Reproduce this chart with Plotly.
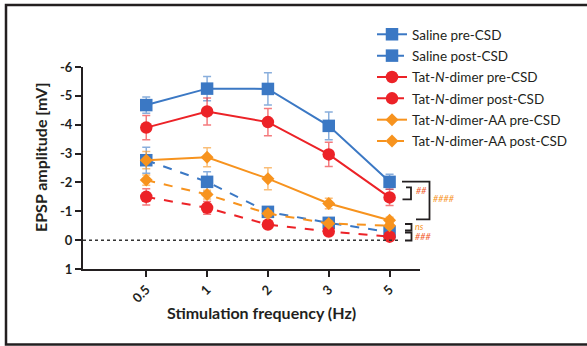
import plotly.graph_objects as go

freq = ["0.5", "1", "2", "3", "5"]

saline_pre = [-4.68, -5.25, -5.24, -3.96, -2.02]
saline_pre_err = [0.28, 0.42, 0.56, 0.48, 0.26]
saline_post = [-2.77, -2.02, -0.98, -0.60, -0.28]
saline_post_err = [0.45, 0.35, 0.12, 0.10, 0.08]
tat_pre = [-3.90, -4.46, -4.09, -2.97, -1.48]
tat_pre_err = [0.42, 0.47, 0.47, 0.42, 0.28]
tat_post = [-1.50, -1.12, -0.54, -0.30, -0.12]
tat_post_err = [0.28, 0.22, 0.10, 0.08, 0.06]
aa_pre = [-2.77, -2.87, -2.13, -1.27, -0.69]
aa_pre_err = [0.30, 0.33, 0.38, 0.18, 0.10]
aa_post = [-2.08, -1.58, -0.92, -0.58, -0.50]
aa_post_err = [0.18, 0.15, 0.10, 0.08, 0.08]

names = ["Saline pre-CSD", "Saline post-CSD",
         "Tat-<i>N</i>-dimer pre-CSD", "Tat-<i>N</i>-dimer post-CSD",
         "Tat-<i>N</i>-dimer-AA pre-CSD", "Tat-<i>N</i>-dimer-AA post-CSD"]

BLUE = "#3b78c4"
RED = "#ec2227"
ORANGE = "#f7931e"
BLUE_E = "rgba(59,120,196,0.6)"
RED_E = "rgba(236,34,39,0.6)"
ORANGE_E = "rgba(247,147,30,0.6)"

series = [
    (saline_pre, saline_pre_err, names[0], BLUE, BLUE_E, "square", 12.5, "solid"),
    (saline_post, saline_post_err, names[1], BLUE, BLUE_E, "square", 12.5, "dash"),
    (tat_pre, tat_pre_err, names[2], RED, RED_E, "circle", 12.5, "solid"),
    (tat_post, tat_post_err, names[3], RED, RED_E, "circle", 12.5, "dash"),
    (aa_pre, aa_pre_err, names[4], ORANGE, ORANGE_E, "diamond", 10, "solid"),
    (aa_post, aa_post_err, names[5], ORANGE, ORANGE_E, "diamond", 10, "dash"),
]

xi = list(range(len(freq)))

fig = go.Figure()
for k, (y, e, nm, col, ecol, sym, sz, dash) in enumerate(series):
    fig.add_trace(go.Scatter(
        x=xi, y=y, name=nm, mode="lines+markers", legendgroup="g%d" % k,
        line=dict(color=col, width=2, dash=dash),
        marker=dict(color=col, symbol=sym, size=sz, line=dict(width=0)),
        error_y=dict(type="data", array=e, visible=True, color=ecol,
                     thickness=1.5, width=4),
    ))

FONT = "Lato"
INK = "#231f20"

# plot area pixel geometry
L, R, T, B = 83, 420, 67, 269
W, H = 587, 346


def px(xp):
    return (xp - L) / (R - L)


def py(yp):
    return (B - yp) / (B - T)


def yv(yp):
    # pixel y -> data value (range 1 at bottom, -6 at top)
    return 1 - 7 * (B - yp) / (B - T)


shapes = []
# outer frame
shapes.append(dict(type="rect", xref="paper", yref="paper",
                   x0=px(6), x1=px(592), y0=py(5), y1=py(344.5),
                   line=dict(color=INK, width=2.5), fillcolor="rgba(0,0,0,0)"))
# dotted zero line
shapes.append(dict(type="line", xref="paper", yref="y",
                   x0=0, x1=px(398), y0=0, y1=0,
                   line=dict(color="#333333", width=1.5, dash="dot")))


def bracket(xl, xv, ytop, ybot, xl2=None):
    if xl2 is None:
        xl2 = xl
    path = "M {a},{b} L {c},{b} L {c},{d} L {e},{d}".format(
        a=px(xl), b=yv(ytop), c=px(xv), d=yv(ybot), e=px(xl2))
    return dict(type="path", xref="paper", yref="y", path=path,
                line=dict(color=INK, width=1.8))


shapes.append(bracket(402, 429.5, 181.7, 219.3, 416))
shapes.append(bracket(406, 411, 187.3, 199.3, 402.5))
shapes.append(bracket(405, 411.5, 224, 230.5))
shapes.append(bracket(405, 411.5, 232.5, 240.5))

SIGR = "#f15a29"
SIGO = "#f7941d"
annotations = []


def sig(text, xp, yp, col):
    annotations.append(dict(text="<i>" + text + "</i>", xref="paper", yref="y",
                            x=px(xp), y=yv(yp), xanchor="left", yanchor="middle",
                            showarrow=False,
                            font=dict(family=FONT, size=9, color=col)))


sig("##", 414, 190, SIGR)
sig("####", 431, 198.5, SIGO)
sig("ns", 413, 226.5, SIGO)
sig("###", 413, 236.5, SIGR)

# axis titles
annotations.append(dict(text="<b>Stimulation frequency (Hz)</b>", xref="paper", yref="paper",
                        x=px(261), y=py(312), xanchor="center", yanchor="middle",
                        showarrow=False, font=dict(family=FONT, size=16, color=INK)))
annotations.append(dict(text="<b>EPSP amplitude [mV]</b>", xref="paper", yref="paper",
                        x=px(40), y=py(157), xanchor="center", yanchor="middle",
                        textangle=-90, showarrow=False,
                        font=dict(family=FONT, size=16, color=INK)))

fig.update_layout(
    width=W, height=H,
    margin=dict(l=L, r=W - R, t=T, b=H - B, pad=0, autoexpand=False),
    paper_bgcolor="white", plot_bgcolor="white",
    font=dict(family=FONT, color=INK),
    showlegend=True,
    legend=dict(x=px(372), y=py(19), xanchor="left", yanchor="top",
                bgcolor="rgba(0,0,0,0)", font=dict(family=FONT, size=13.5, color=INK),
                itemwidth=30, tracegroupgap=0.8, traceorder="grouped"),
    xaxis=dict(
        tickmode="array", tickvals=xi, ticktext=["<b>%s</b>" % f for f in freq],
        range=[-1.04, 4.5], tickangle=-45,
        showline=True, linecolor=INK, linewidth=2,
        ticks="outside", ticklen=6, tickwidth=2, tickcolor=INK,
        tickfont=dict(family=FONT, size=13, color=INK),
        showgrid=False, zeroline=False,
    ),
    yaxis=dict(
        range=[1, -6], tickmode="array",
        tickvals=[-6, -5, -4, -3, -2, -1, 0, 1],
        ticktext=["<b>%d</b>" % v for v in [-6, -5, -4, -3, -2, -1, 0, 1]],
        showline=True, linecolor=INK, linewidth=2,
        ticks="outside", ticklen=6, tickwidth=2, tickcolor=INK,
        tickfont=dict(family=FONT, size=13, color=INK),
        showgrid=False, zeroline=False,
    ),
    shapes=shapes,
    annotations=annotations,
)

fig.write_html("out.html", config={"displayModeBar": False},
               post_script="document.body.style.margin='0';document.body.style.overflow='hidden';")
